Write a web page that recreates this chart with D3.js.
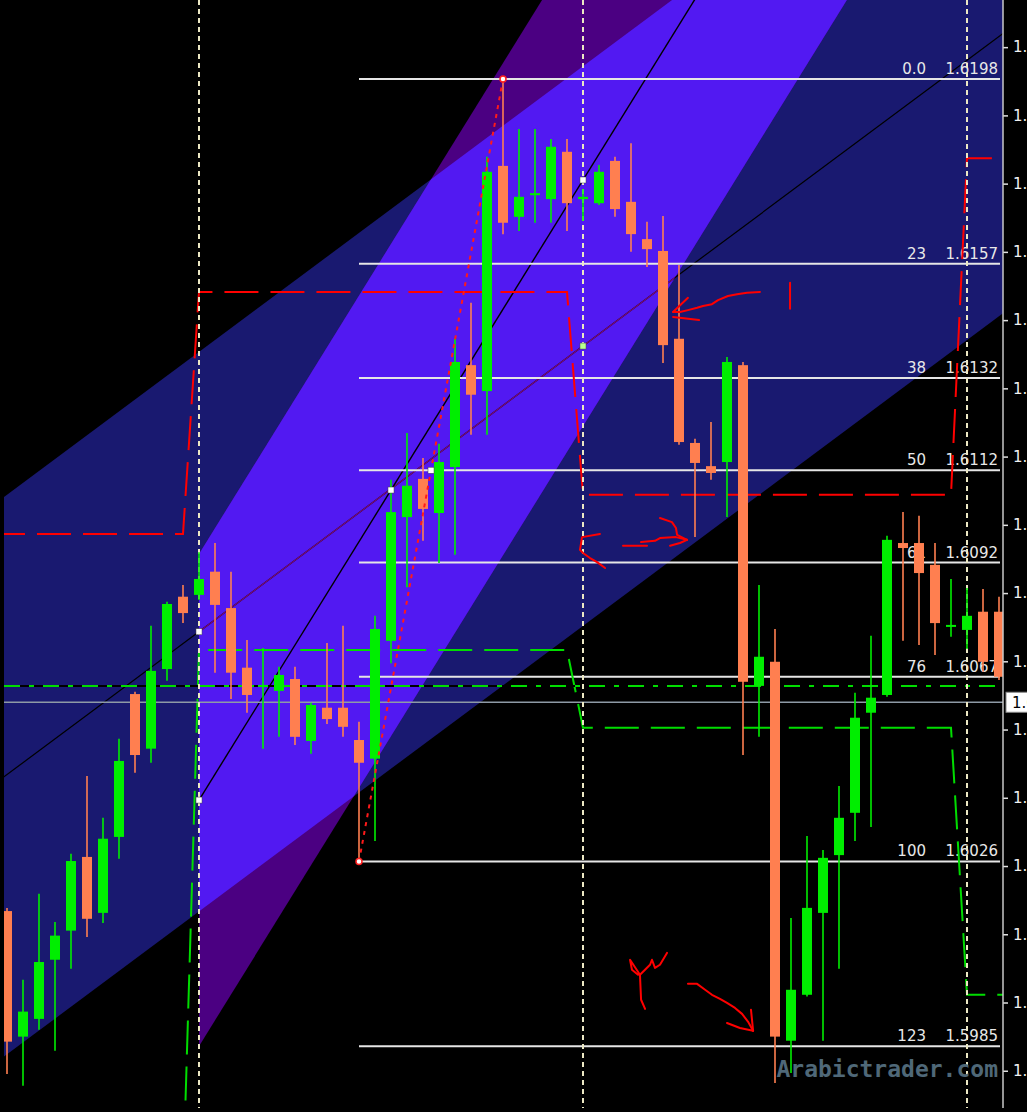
<!DOCTYPE html>
<html>
<head>
<meta charset="utf-8">
<script src="https://d3js.org/d3.v7.min.js"></script>
<style>
  html, body { margin: 0; padding: 0; background: #000; overflow: hidden; }
  svg { display: block; }
</style>
</head>
<body>
<svg id="chart" width="1027" height="1112"></svg>
<script>
// H1 candles, one per bar index
const opens = [1.60151, 1.59875, 1.59914, 1.60044, 1.60108, 1.60270, 1.60147, 1.60314, 1.60628, 1.60508,
  1.60683, 1.60842, 1.60846, 1.60897, 1.60817, 1.60686, 1.60644, 1.60635, 1.60661, 1.60525,
  1.60598, 1.60598, 1.60527, 1.60486, 1.60745, 1.61017, 1.61101, 1.61026, 1.61127, 1.61351,
  1.61294, 1.61789, 1.61677, 1.61725, 1.61716, 1.61820, 1.61716, 1.61707, 1.61800, 1.61710,
  1.61628, 1.61602, 1.61409, 1.61180, 1.61129, 1.61138, 1.61351, 1.60646, 1.60699, 1.59866,
  1.59967, 1.60147, 1.60274, 1.60367, 1.60587, 1.60626, 1.60960, 1.60960, 1.60912, 1.60776,
  1.60769, 1.60809, 1.60809];
const highs = [1.60158, 1.60000, 1.60189, 1.60127, 1.60277, 1.60448, 1.60356, 1.60530, 1.60633, 1.60778,
  1.60831, 1.60868, 1.60940, 1.60960, 1.60897, 1.60747, 1.60729, 1.60688, 1.60688, 1.60609,
  1.60740, 1.60778, 1.60567, 1.60800, 1.61099, 1.61202, 1.61147, 1.61178, 1.61409, 1.61488,
  1.61809, 1.61980, 1.61870, 1.61870, 1.61848, 1.61848, 1.61738, 1.61791, 1.61809, 1.61839,
  1.61666, 1.61679, 1.61571, 1.61189, 1.61226, 1.61369, 1.61358, 1.60868, 1.60771, 1.60136,
  1.60316, 1.60285, 1.60426, 1.60631, 1.60756, 1.60976, 1.61028, 1.61020, 1.60960, 1.60881,
  1.60861, 1.60859, 1.60842];
const lows = [1.59793, 1.59767, 1.59890, 1.59844, 1.60024, 1.60094, 1.60125, 1.60266, 1.60455, 1.60477,
  1.60657, 1.60784, 1.60835, 1.60675, 1.60617, 1.60587, 1.60508, 1.60534, 1.60516, 1.60497,
  1.60562, 1.60534, 1.60260, 1.60305, 1.60696, 1.60863, 1.60965, 1.60916, 1.60934, 1.61198,
  1.61198, 1.61639, 1.61646, 1.61664, 1.61664, 1.61646, 1.61668, 1.61703, 1.61677, 1.61600,
  1.61567, 1.61356, 1.61176, 1.60973, 1.61099, 1.61017, 1.60494, 1.60534, 1.59773, 1.59795,
  1.59963, 1.59866, 1.60024, 1.60305, 1.60336, 1.60622, 1.60745, 1.60736, 1.60714, 1.60754,
  1.60727, 1.60677, 1.60659];
const closes = [1.59864, 1.59930, 1.60039, 1.60097, 1.60261, 1.60134, 1.60310, 1.60481, 1.60494, 1.60679,
  1.60826, 1.60806, 1.60881, 1.60824, 1.60675, 1.60626, 1.60648, 1.60670, 1.60534, 1.60604,
  1.60573, 1.60556, 1.60477, 1.60771, 1.61028, 1.61086, 1.61035, 1.61138, 1.61358, 1.61286,
  1.61776, 1.61664, 1.61721, 1.61729, 1.61831, 1.61707, 1.61721, 1.61776, 1.61694, 1.61639,
  1.61606, 1.61395, 1.61182, 1.61136, 1.61114, 1.61358, 1.60655, 1.60710, 1.59875, 1.59978,
  1.60158, 1.60268, 1.60356, 1.60576, 1.60620, 1.60967, 1.60949, 1.60894, 1.60784, 1.60780,
  1.60800, 1.60699, 1.60666];

const axisTicks = [1.6205, 1.6190, 1.6175, 1.6160, 1.6145, 1.6130, 1.6115, 1.6100,
  1.6085, 1.6070, 1.6055, 1.6040, 1.6025, 1.6010, 1.5995, 1.5980];

const fibRatios = [0, 0.236, 0.382, 0.5, 0.618, 0.764, 1, 1.236];
const fibNames = ['0.0', '23', '38', '50', '61', '76', '100', '123'];
const fibLow = [22, 1.6026];
const fibHigh = [31, 1.6198];

const daySeparators = [12, 36, 60];
const prevHighs = [1.6098, 1.61512, 1.61066, 1.61806];
const prevLows = [1.5955, 1.60725, 1.60554, 1.59967];
const pivotLevel = 1.60646;
const bidPrice = 1.6061;

const wideChannel = { a: [12, 1.60765], b: [36, 1.61393], half: 0.00615 };
const steepChannel = { a: [12, 1.60395], b: [36, 1.61758], half: 0.00541 };
const extraAnchor = [26.5, 1.6112];

// hand drawn red marks, in bar / price units
const scribbles = [
  [[47.06, 1.61512], [46.25, 1.6151], [45.63, 1.61507], [45.06, 1.61503], [44.44, 1.61494], [44.06, 1.61485],
   [43.5, 1.61481], [43.13, 1.61477], [42.56, 1.61472], [42.06, 1.61468], [41.63, 1.61468]],
  [[41.63, 1.61468], [42.56, 1.61499]],
  [[41.63, 1.61457], [43.25, 1.6145]],
  [[48.94, 1.61532], [48.94, 1.61475]],
  [[37.06, 1.6098], [35.94, 1.60973], [35.81, 1.60945], [36, 1.60938], [36.44, 1.60927], [36.88, 1.60918], [37.38, 1.60905]],
  [[38.5, 1.60954], [40, 1.60954]],
  [[39.63, 1.60962], [40.5, 1.60965], [40.81, 1.60971], [41.81, 1.60973], [42.5, 1.60967]],
  [[40.81, 1.61015], [41.56, 1.61006], [41.81, 1.60993], [41.88, 1.60978], [42.5, 1.60967]],
  [[41.44, 1.60954], [42.06, 1.6096], [42.5, 1.60967]],
  [[39.88, 1.59936], [39.63, 1.59956], [39.56, 1.60011], [38.94, 1.60044], [39.06, 1.60022], [39.44, 1.60011]],
  [[39.56, 1.60011], [40.19, 1.60033], [40.31, 1.60044], [40.5, 1.60026], [40.81, 1.60033], [41.25, 1.60059]],
  [[42.56, 1.59991], [43.13, 1.59991], [43.63, 1.59978], [44.06, 1.59967], [44.56, 1.59958], [45, 1.59949],
   [45.5, 1.59938], [45.94, 1.59925], [46.31, 1.59908], [46.63, 1.59888]],
  [[46.5, 1.59934], [46.63, 1.59888]],
  [[45, 1.59905], [45.81, 1.59894], [46.63, 1.59888]]
];

const candles = opens.map((o, i) => ({ i, o, h: highs[i], l: lows[i], c: closes[i] }));

const W = 1027, H = 1112;
const plot = { left: 4, right: 1003, top: 0, bottom: 1108 };

const x = d3.scaleLinear().domain([0, 62]).range([7, 999]);
const y = d3.scaleLinear().domain([1.5985, 1.6198]).range([1048, 79]);

const svg = d3.select('#chart');
const defs = svg.append('defs');
const line = d3.line().x(d => x(d[0])).y(d => y(d[1]));

const priceAt = (ch, b) => ch.a[1] + (b - ch.a[0]) * (ch.b[1] - ch.a[1]) / (ch.b[0] - ch.a[0]);
const channelShape = (ch, b0, b1) => [
  [b0, priceAt(ch, b0) + ch.half], [b1, priceAt(ch, b1) + ch.half],
  [b1, priceAt(ch, b1) - ch.half], [b0, priceAt(ch, b0) - ch.half]
];
const wideShape = channelShape(wideChannel, -2, 66);
const steepShape = channelShape(steepChannel, daySeparators[0], 66);

defs.append('clipPath').attr('id', 'plotClip').append('rect')
  .attr('x', plot.left).attr('y', plot.top)
  .attr('width', plot.right - plot.left).attr('height', plot.bottom - plot.top);
defs.append('clipPath').attr('id', 'wideClip').append('path').attr('d', line(wideShape) + 'Z');
defs.append('clipPath').attr('id', 'steepClip').append('path').attr('d', line(steepShape) + 'Z');

svg.append('rect').attr('width', W).attr('height', H).attr('fill', '#000');

const g = svg.append('g').attr('clip-path', 'url(#plotClip)');

// channels
g.append('path').attr('d', line(wideShape) + 'Z').attr('fill', '#191970');
g.append('path').attr('d', line(steepShape) + 'Z').attr('fill', '#4b0082');
g.append('g').attr('clip-path', 'url(#wideClip)')
  .append('path').attr('d', line(steepShape) + 'Z').attr('fill', '#5219f2');

// channel centre lines
const midLine = [[-2, priceAt(wideChannel, -2)], [66, priceAt(wideChannel, 66)]];
g.append('path').attr('d', line(midLine)).attr('stroke', '#000').attr('stroke-width', 1.2).attr('fill', 'none');
g.append('g').attr('clip-path', 'url(#steepClip)')
  .append('path').attr('d', line(midLine)).attr('stroke', '#7a0a7a').attr('stroke-width', 1.2).attr('fill', 'none');
const steepLine = [[daySeparators[0], priceAt(steepChannel, daySeparators[0])], [66, priceAt(steepChannel, 66)]];
g.append('path').attr('d', line(steepLine)).attr('stroke', '#000').attr('stroke-width', 1.4).attr('fill', 'none');

// fibonacci levels
const fibRange = fibHigh[1] - fibLow[1];
const fibEnd = x(62) + 1;
const fib = g.append('g');
fibRatios.forEach((r, k) => {
  const p = fibHigh[1] - r * fibRange;
  const yy = y(p);
  fib.append('line').attr('x1', x(fibLow[0])).attr('x2', fibEnd).attr('y1', yy).attr('y2', yy)
    .attr('stroke', '#e6e6e6').attr('stroke-width', 2);
  fib.append('text').attr('x', fibEnd - 74).attr('y', yy - 5).attr('text-anchor', 'end')
    .attr('font-family', 'DejaVu Sans').attr('font-size', 15).attr('fill', '#e8e8e8').text(fibNames[k]);
  fib.append('text').attr('x', fibEnd - 2).attr('y', yy - 5).attr('text-anchor', 'end')
    .attr('font-family', 'DejaVu Sans').attr('font-size', 15).attr('fill', '#e8e8e8').text(p.toFixed(4));
});

// previous day high / low step lines
function stepPoints(levels) {
  const pts = [[-1, levels[0]]];
  daySeparators.forEach((s, k) => {
    pts.push([s - 1, levels[k]]);
    pts.push([s, levels[k + 1]]);
  });
  pts.push([64, levels[levels.length - 1]]);
  return pts;
}
g.append('path').attr('d', line(stepPoints(prevHighs))).attr('fill', 'none')
  .attr('stroke', '#ff0000').attr('stroke-width', 2).attr('stroke-dasharray', '34,12');
g.append('path').attr('d', line(stepPoints(prevLows))).attr('fill', 'none')
  .attr('stroke', '#00dd00').attr('stroke-width', 2).attr('stroke-dasharray', '34,12');

// pivot dash-dot and bid line
g.append('line').attr('x1', plot.left).attr('x2', plot.right).attr('y1', y(pivotLevel)).attr('y2', y(pivotLevel))
  .attr('stroke', '#000').attr('stroke-width', 2);
g.append('line').attr('x1', plot.left).attr('x2', plot.right).attr('y1', y(pivotLevel)).attr('y2', y(pivotLevel))
  .attr('stroke', '#00dd00').attr('stroke-width', 2).attr('stroke-dasharray', '16,9,5,9');
g.append('line').attr('x1', plot.left).attr('x2', plot.right).attr('y1', y(bidPrice)).attr('y2', y(bidPrice))
  .attr('stroke', '#8e9aa6').attr('stroke-width', 1.5);

// day separators
g.selectAll('.sep').data(daySeparators).join('line').attr('class', 'sep')
  .attr('x1', d => x(d)).attr('x2', d => x(d)).attr('y1', plot.top).attr('y2', plot.bottom)
  .attr('stroke', '#ece8c4').attr('stroke-width', 2).attr('stroke-dasharray', '5,4');

// candles
const bull = '#00ee00', bear = '#ff7f50';
const cg = g.append('g').selectAll('g').data(candles).join('g');
cg.append('line')
  .attr('x1', d => x(d.i)).attr('x2', d => x(d.i))
  .attr('y1', d => y(d.h)).attr('y2', d => y(d.l))
  .attr('stroke', d => d.c >= d.o ? bull : bear).attr('stroke-width', 1.6);
cg.append('rect')
  .attr('x', d => x(d.i) - 5).attr('width', 10)
  .attr('y', d => Math.min(y(d.o), y(d.c)))
  .attr('height', d => Math.max(2, Math.abs(y(d.o) - y(d.c))))
  .attr('fill', d => d.c >= d.o ? bull : bear);

// fib trend line
g.append('path').attr('d', line([fibLow, fibHigh])).attr('fill', 'none')
  .attr('stroke', '#ff1a1a').attr('stroke-width', 2).attr('stroke-dasharray', '4,5');

// anchor markers
const squares = [
  [12, priceAt(steepChannel, 12), '#ffffff'], [24, priceAt(steepChannel, 24), '#ffffff'],
  [36, priceAt(steepChannel, 36), '#ffffff'], [12, priceAt(wideChannel, 12), '#ffffff'],
  [36, priceAt(wideChannel, 36), '#b8ff90'], [extraAnchor[0], extraAnchor[1], '#ffffff']
];
g.selectAll('.anchor').data(squares).join('rect').attr('class', 'anchor')
  .attr('x', d => x(d[0]) - 3).attr('y', d => y(d[1]) - 3).attr('width', 6).attr('height', 6)
  .attr('fill', d => d[2]).attr('stroke', '#444').attr('stroke-width', 0.5);
g.selectAll('.fibAnchor').data([fibLow, fibHigh]).join('circle').attr('class', 'fibAnchor')
  .attr('cx', d => x(d[0])).attr('cy', d => y(d[1])).attr('r', 3)
  .attr('fill', '#fff').attr('stroke', '#ff2020').attr('stroke-width', 1.5);

// hand drawn marks
g.selectAll('.scribble').data(scribbles).join('path').attr('class', 'scribble')
  .attr('d', d => line(d)).attr('fill', 'none')
  .attr('stroke', '#ff0000').attr('stroke-width', 2).attr('stroke-linejoin', 'round').attr('stroke-linecap', 'round');

// watermark
svg.append('text').attr('x', 998).attr('y', 1077).attr('text-anchor', 'end')
  .attr('font-family', 'DejaVu Sans Mono').attr('font-weight', 'bold').attr('font-size', 23)
  .attr('fill', '#4f6878').text('Arabictrader.com');

// price axis
const axis = svg.append('g').attr('transform', `translate(${plot.right},0)`)
  .call(d3.axisRight(y).tickValues(axisTicks).tickFormat(d3.format('.4f')).tickSize(5).tickPadding(5));
axis.select('.domain').remove();
axis.selectAll('.tick line').attr('stroke', '#e0e0e0').attr('stroke-width', 1.5);
axis.selectAll('.tick text').attr('fill', '#f0f0f0').attr('font-family', 'DejaVu Sans').attr('font-size', 15);
svg.append('line').attr('x1', plot.right).attr('x2', plot.right).attr('y1', 0).attr('y2', plot.bottom)
  .attr('stroke', '#c8c8c8').attr('stroke-width', 1.5);

// bid label
svg.append('rect').attr('x', plot.right + 3).attr('y', y(bidPrice) - 10).attr('width', 40).attr('height', 20)
  .attr('fill', '#fff').attr('stroke', '#888');
svg.append('text').attr('x', plot.right + 9).attr('y', y(bidPrice)).attr('dy', '0.35em')
  .attr('font-family', 'DejaVu Sans').attr('font-size', 15).attr('fill', '#000').text(bidPrice.toFixed(4));
</script>
</body>
</html>
